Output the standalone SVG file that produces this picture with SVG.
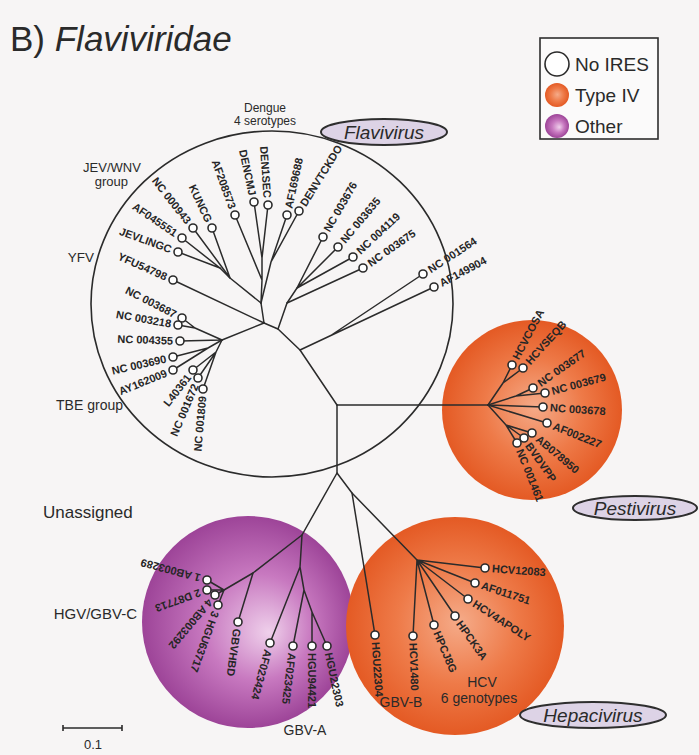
<svg xmlns="http://www.w3.org/2000/svg" width="699" height="755" viewBox="0 0 699 755">
<defs>
<radialGradient id="gOr" cx="50%" cy="50%" r="50%" fx="52%" fy="48%">
<stop offset="0" stop-color="#f5ab89"/>
<stop offset="0.55" stop-color="#ee7a48"/>
<stop offset="1" stop-color="#e45a24"/>
</radialGradient>
<radialGradient id="gPu" cx="50%" cy="50%" r="50%" fx="60%" fy="55%">
<stop offset="0" stop-color="#efd0eb"/>
<stop offset="0.5" stop-color="#c879c0"/>
<stop offset="1" stop-color="#9d4498"/>
</radialGradient>
<style>
.br{fill:none;stroke:#2b2b2b;stroke-width:1.5;stroke-linecap:round;stroke-linejoin:round}
.lf{fill:#fff;stroke:#2b2b2b;stroke-width:1.6}
.lb{font-family:"Liberation Sans",Arial,sans-serif;font-size:11px;font-weight:bold;fill:#262626}
.gl{font-family:"Liberation Sans",Arial,sans-serif;fill:#2a2a2a}
.tag{fill:#ddd3e6;stroke:#2e2e2e;stroke-width:2}
.tagt{font-family:"Liberation Sans",Arial,sans-serif;font-style:italic;font-size:19px;fill:#2a2a2a;text-anchor:middle}
</style>
</defs>
<rect width="699" height="755" fill="#f7f5f5"/>

<g id="title">
<text x="10" y="51" class="gl" font-size="35">B) <tspan font-style="italic">Flaviviridae</tspan></text>
</g>

<g id="legend">
<rect x="540" y="38" width="118" height="101" fill="#fbfafa" stroke="#2e2e2e" stroke-width="1.6"/>
<circle cx="557" cy="64" r="12" fill="#fff" stroke="#2b2b2b" stroke-width="1.6"/>
<circle cx="557" cy="95" r="12" fill="url(#gOr)"/>
<circle cx="557" cy="126" r="12" fill="url(#gPu)"/>
<text x="575" y="71" class="gl" font-size="19">No IRES</text>
<text x="575" y="102" class="gl" font-size="19">Type IV</text>
<text x="575" y="133" class="gl" font-size="19">Other</text>
</g>

<g id="cluster-flavivirus">
<ellipse cx="272" cy="304" rx="181" ry="173" fill="none" stroke="#2b2b2b" stroke-width="1.6"/>
<ellipse class="tag" cx="384" cy="132" rx="63" ry="13"/>
<text class="tagt" x="384" y="139">Flavivirus</text>
<text class="gl" font-size="12" x="265" y="112" text-anchor="middle">Dengue</text>
<text class="gl" font-size="12" x="265" y="125" text-anchor="middle">4 serotypes</text>
<text class="gl" font-size="13" x="112" y="172" text-anchor="middle">JEV/WNV</text>
<text class="gl" font-size="13" x="128" y="186" text-anchor="end">group</text>
<text class="gl" font-size="13.5" x="94" y="262" text-anchor="end">YFV</text>
<text class="gl" font-size="14" x="123" y="410" text-anchor="end">TBE group</text>
</g>

<g id="cluster-pestivirus">
<circle cx="532" cy="410" r="90" fill="url(#gOr)"/>
<ellipse class="tag" cx="635" cy="508" rx="62" ry="12"/>
<text class="tagt" x="635" y="515">Pestivirus</text>
</g>

<g id="cluster-unassigned">
<circle cx="248" cy="622" r="106" fill="url(#gPu)"/>
<text class="gl" font-size="17" x="43" y="518">Unassigned</text>
<text class="gl" font-size="15" x="137" y="619" text-anchor="end">HGV/GBV-C</text>
<text class="gl" font-size="14" x="305" y="735" text-anchor="middle">GBV-A</text>
</g>

<g id="cluster-hepacivirus">
<circle cx="455" cy="626" r="109" fill="url(#gOr)"/>
<ellipse class="tag" cx="593" cy="715" rx="73" ry="13"/>
<text class="tagt" x="593" y="722">Hepacivirus</text>
<text class="gl" font-size="14" x="482" y="687" text-anchor="middle">HCV</text>
<text class="gl" font-size="14" x="479" y="703" text-anchor="middle">6 genotypes</text>
<text class="gl" font-size="14" x="401" y="707" text-anchor="middle">GBV-B</text>
</g>

<g id="connectors" class="br">
<path d="M337,405 L300,350 L278,329 L264,323"/>
<path d="M264,323 L222,340"/>
<path d="M264,323 L173,280"/>
<path d="M264,323 L261,303"/>
<path d="M278,329 L287,303 L297,288"/>
<path d="M297,288 L323,237 M297,288 L338,247 M297,288 L353,257 M287,303 L363,268"/>
<path d="M300,350 L434,287 M330,336 L423,274"/>
<path d="M261,303 L230,278 L220,268"/>
<path d="M220,268 L182,238 M220,268 L178,252 M230,278 L193,228 M230,278 L212,228"/>
<path d="M261,303 L262,280 L235,215 M262,280 L262,258 L254,202 M262,258 L268,205"/>
<path d="M261,303 L271,262 L287,215 M271,262 L299,211"/>
<path d="M222,340 L180,341 M222,340 L195,328 L182,318 M195,328 L178,325"/>
<path d="M222,340 L208,348 L173,357 M208,348 L173,370"/>
<path d="M222,340 L216,352 L193,370 M216,352 L198,378 M216,352 L203,389"/>
<path d="M337,405 L488,405"/>
<path d="M488,405 L503,383 L512,365 M503,383 L523,368"/>
<path d="M488,405 L516,396 L533,388 M516,396 L545,393"/>
<path d="M488,405 L543,407 M488,405 L547,423"/>
<path d="M488,405 L506,425 L532,433 M506,425 L524,438 M506,425 L517,443"/>
<path d="M337,405 L337,473 L352,493 L375,635"/>
<path d="M352,493 L417,560"/>
<path d="M417,560 L485,568 M417,560 L475,583 M417,560 L468,599 M417,560 L455,616 M417,560 L434,625 M417,560 L413,636"/>
<path d="M337,473 L302,535 L253,573 L224,590"/>
<path d="M224,590 L207,580 M224,590 L207,590 M224,590 L215,595 M224,590 L218,605 M253,573 L238,622"/>
<path d="M302,535 L300,567 L270,643 M300,567 L304,590 L293,646 M304,590 L312,612 L312,646 M312,612 L327,646"/>
</g>

<g id="leaves">
<g id="n-NC000943"><circle class="lf" cx="193" cy="228" r="4"/><text class="lb" x="188.7" y="222.5" dy="0.35em" text-anchor="end" transform="rotate(52 188.7 222.5)">NC 000943</text></g>
<g id="n-KUNCG"><circle class="lf" cx="212" cy="228" r="4"/><text class="lb" x="209" y="221.7" dy="0.35em" text-anchor="end" transform="rotate(65 209 221.7)">KUNCG</text></g>
<g id="n-AF208573"><circle class="lf" cx="235" cy="215" r="4"/><text class="lb" x="232.6" y="208.4" dy="0.35em" text-anchor="end" transform="rotate(70 232.6 208.4)">AF208573</text></g>
<g id="n-DENCMJ"><circle class="lf" cx="254" cy="202" r="4"/><text class="lb" x="252.5" y="195.2" dy="0.35em" text-anchor="end" transform="rotate(78 252.5 195.2)">DENCMJ</text></g>
<g id="n-DEN1SEC"><circle class="lf" cx="268" cy="205" r="4"/><text class="lb" x="267.5" y="198" dy="0.35em" text-anchor="end" transform="rotate(86 267.5 198)">DEN1SEC</text></g>
<g id="n-AF169688"><circle class="lf" cx="287" cy="215" r="4"/><text class="lb" x="288.5" y="208.2" dy="0.35em" transform="rotate(-78 288.5 208.2)">AF169688</text></g>
<g id="n-DENVTCKDO"><circle class="lf" cx="299" cy="211" r="4"/><text class="lb" x="302.7" y="205.1" dy="0.35em" transform="rotate(-58 302.7 205.1)">DENVTCKDO</text></g>
<g id="n-NC003676"><circle class="lf" cx="323" cy="237" r="4"/><text class="lb" x="326.5" y="230.9" dy="0.35em" transform="rotate(-60 326.5 230.9)">NC 003676</text></g>
<g id="n-NC003635"><circle class="lf" cx="338" cy="247" r="4"/><text class="lb" x="342.5" y="241.6" dy="0.35em" transform="rotate(-50 342.5 241.6)">NC 003635</text></g>
<g id="n-NC004119"><circle class="lf" cx="353" cy="257" r="4"/><text class="lb" x="358.1" y="252.2" dy="0.35em" transform="rotate(-43 358.1 252.2)">NC 004119</text></g>
<g id="n-NC003675"><circle class="lf" cx="363" cy="268" r="4"/><text class="lb" x="368.7" y="264" dy="0.35em" transform="rotate(-35 368.7 264)">NC 003675</text></g>
<g id="n-NC001564"><circle class="lf" cx="423" cy="274" r="4"/><text class="lb" x="428.9" y="270.2" dy="0.35em" transform="rotate(-33 428.9 270.2)">NC 001564</text></g>
<g id="n-AF149904"><circle class="lf" cx="434" cy="287" r="4"/><text class="lb" x="440.2" y="283.7" dy="0.35em" transform="rotate(-28 440.2 283.7)">AF149904</text></g>
<g id="n-AF045551"><circle class="lf" cx="182" cy="238" r="4"/><text class="lb" x="176.2" y="234.1" dy="0.35em" text-anchor="end" transform="rotate(34 176.2 234.1)">AF045551</text></g>
<g id="n-JEVLINGC"><circle class="lf" cx="178" cy="252" r="4"/><text class="lb" x="171.4" y="249.6" dy="0.35em" text-anchor="end" transform="rotate(20 171.4 249.6)">JEVLINGC</text></g>
<g id="n-YFU54798"><circle class="lf" cx="173" cy="280" r="4"/><text class="lb" x="166.6" y="277.2" dy="0.35em" text-anchor="end" transform="rotate(24 166.6 277.2)">YFU54798</text></g>
<g id="n-NC003687"><circle class="lf" cx="182" cy="318" r="4"/><text class="lb" x="175.8" y="314.8" dy="0.35em" text-anchor="end" transform="rotate(27 175.8 314.8)">NC 003687</text></g>
<g id="n-NC003218"><circle class="lf" cx="178" cy="325" r="4"/><text class="lb" x="171.1" y="323.8" dy="0.35em" text-anchor="end" transform="rotate(10 171.1 323.8)">NC 003218</text></g>
<g id="n-NC004355"><circle class="lf" cx="180" cy="341" r="4"/><text class="lb" x="173" y="340.8" dy="0.35em" text-anchor="end" transform="rotate(2 173 340.8)">NC 004355</text></g>
<g id="n-NC003690"><circle class="lf" cx="173" cy="357" r="4"/><text class="lb" x="166.2" y="358.6" dy="0.35em" text-anchor="end" transform="rotate(-13 166.2 358.6)">NC 003690</text></g>
<g id="n-AY162009"><circle class="lf" cx="173" cy="370" r="4"/><text class="lb" x="166.5" y="372.6" dy="0.35em" text-anchor="end" transform="rotate(-22 166.5 372.6)">AY162009</text></g>
<g id="n-L40361"><circle class="lf" cx="193" cy="370" r="4"/><text class="lb" x="188.7" y="375.5" dy="0.35em" text-anchor="end" transform="rotate(-52 188.7 375.5)">L40361</text></g>
<g id="n-NC001672"><circle class="lf" cx="198" cy="378" r="4"/><text class="lb" x="195.3" y="384.4" dy="0.35em" text-anchor="end" transform="rotate(-67 195.3 384.4)">NC 001672</text></g>
<g id="n-NC001809"><circle class="lf" cx="203" cy="389" r="4"/><text class="lb" x="202.4" y="396" dy="0.35em" text-anchor="end" transform="rotate(-85 202.4 396)">NC 001809</text></g>

<g id="n-HCVCOSA"><circle class="lf" cx="512" cy="365" r="4"/><text class="lb" x="515.3" y="358.8" dy="0.35em" transform="rotate(-62 515.3 358.8)">HCVCOSA</text></g>
<g id="n-HCVSEQB"><circle class="lf" cx="523" cy="368" r="4"/><text class="lb" x="527.7" y="362.8" dy="0.35em" transform="rotate(-48 527.7 362.8)">HCVSEQB</text></g>
<g id="n-NC003677"><circle class="lf" cx="533" cy="388" r="4"/><text class="lb" x="538.7" y="384" dy="0.35em" transform="rotate(-35 538.7 384)">NC 003677</text></g>
<g id="n-NC003679"><circle class="lf" cx="545" cy="393" r="4"/><text class="lb" x="551.8" y="391.2" dy="0.35em" transform="rotate(-15 551.8 391.2)">NC 003679</text></g>
<g id="n-NC003678"><circle class="lf" cx="543" cy="407" r="4"/><text class="lb" x="550" y="407.5" dy="0.35em" transform="rotate(4 550 407.5)">NC 003678</text></g>
<g id="n-AF002227"><circle class="lf" cx="547" cy="423" r="4"/><text class="lb" x="553.5" y="425.6" dy="0.35em" transform="rotate(22 553.5 425.6)">AF002227</text></g>
<g id="n-AB078950"><circle class="lf" cx="532" cy="433" r="4"/><text class="lb" x="537.4" y="437.5" dy="0.35em" transform="rotate(40 537.4 437.5)">AB078950</text></g>
<g id="n-BVDVPP"><circle class="lf" cx="524" cy="438" r="4"/><text class="lb" x="528" y="443.7" dy="0.35em" transform="rotate(55 528 443.7)">BVDVPP</text></g>
<g id="n-NC001461"><circle class="lf" cx="517" cy="443" r="4"/><text class="lb" x="519.6" y="449.5" dy="0.35em" transform="rotate(68 519.6 449.5)">NC 001461</text></g>

<g id="n-HCV12083"><circle class="lf" cx="485" cy="568" r="4"/><text class="lb" x="492" y="568.5" dy="0.35em" transform="rotate(4 492 568.5)">HCV12083</text></g>
<g id="n-AF011751"><circle class="lf" cx="475" cy="583" r="4"/><text class="lb" x="481.7" y="585.2" dy="0.35em" transform="rotate(18 481.7 585.2)">AF011751</text></g>
<g id="n-HCV4APOLY"><circle class="lf" cx="468" cy="599" r="4"/><text class="lb" x="473.9" y="602.8" dy="0.35em" transform="rotate(33 473.9 602.8)">HCV4APOLY</text></g>
<g id="n-HPCK3A"><circle class="lf" cx="455" cy="616" r="4"/><text class="lb" x="459" y="621.7" dy="0.35em" transform="rotate(55 459 621.7)">HPCK3A</text></g>
<g id="n-HPCJ8G"><circle class="lf" cx="434" cy="625" r="4"/><text class="lb" x="436.7" y="631.4" dy="0.35em" transform="rotate(67 436.7 631.4)">HPCJ8G</text></g>
<g id="n-HCV1480"><circle class="lf" cx="413" cy="636" r="4"/><text class="lb" x="413.2" y="643" dy="0.35em" transform="rotate(88 413.2 643)">HCV1480</text></g>
<g id="n-HGU22304"><circle class="lf" cx="375" cy="635" r="4"/><text class="lb" x="375.5" y="642" dy="0.35em" transform="rotate(86 375.5 642)">HGU22304</text></g>

<g id="n-AB003289"><circle class="lf" cx="207" cy="580" r="4"/><text class="lb" x="200.2" y="578.2" dy="0.35em" transform="rotate(195 200.2 578.2)">1 AB003289</text></g>
<g id="n-D87713"><circle class="lf" cx="207" cy="590" r="4"/><text class="lb" x="200.4" y="592.4" dy="0.35em" transform="rotate(160 200.4 592.4)">2 D87713</text></g>
<g id="n-AB003292"><circle class="lf" cx="215" cy="595" r="4"/><text class="lb" x="210.5" y="600.4" dy="0.35em" transform="rotate(130 210.5 600.4)">4 AB003292</text></g>
<g id="n-HGU63717"><circle class="lf" cx="218" cy="605" r="4"/><text class="lb" x="215.6" y="611.6" dy="0.35em" transform="rotate(110 215.6 611.6)">3 HGU63717</text></g>
<g id="n-GBVHBD"><circle class="lf" cx="238" cy="622" r="4"/><text class="lb" x="237" y="628.9" dy="0.35em" transform="rotate(98 237 628.9)">GBVHBD</text></g>
<g id="n-AF023424"><circle class="lf" cx="270" cy="643" r="4"/><text class="lb" x="268.2" y="649.8" dy="0.35em" transform="rotate(105 268.2 649.8)">AF023424</text></g>
<g id="n-AF023425"><circle class="lf" cx="293" cy="646" r="4"/><text class="lb" x="292.1" y="653" dy="0.35em" transform="rotate(97 292.1 653)">AF023425</text></g>
<g id="n-HGU94421"><circle class="lf" cx="312" cy="646" r="4"/><text class="lb" x="312" y="653" dy="0.35em" transform="rotate(90 312 653)">HGU94421</text></g>
<g id="n-HGU22303"><circle class="lf" cx="327" cy="646" r="4"/><text class="lb" x="328.5" y="652.8" dy="0.35em" transform="rotate(78 328.5 652.8)">HGU22303</text></g>
</g>

<g id="scalebar">
<path d="M63,728 L122,728 M63,725 L63,731 M122,725 L122,731" fill="none" stroke="#2b2b2b" stroke-width="1.6"/>
<text class="gl" font-size="13" x="93" y="749" text-anchor="middle">0.1</text>
</g>
</svg>
